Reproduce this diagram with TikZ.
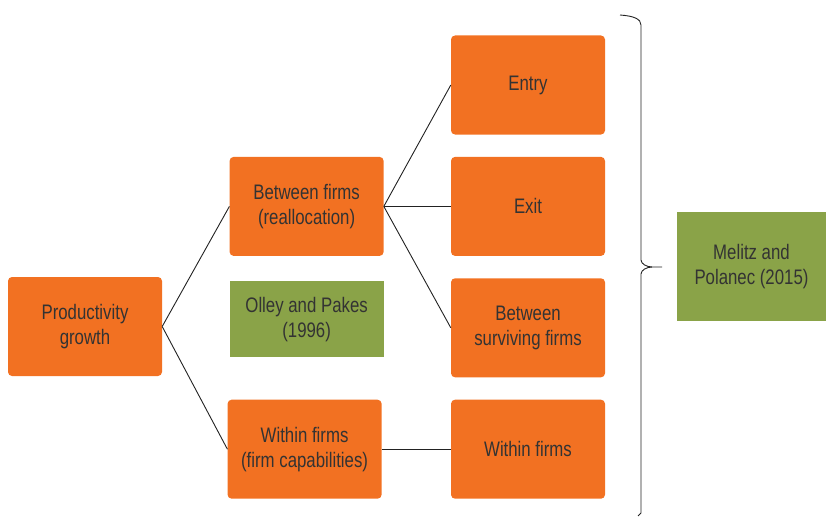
\documentclass[tikz,border=0pt]{standalone}
\usepackage{fontspec}
\setmainfont{Liberation Sans}[FakeStretch=0.8]
\usepackage{xcolor}
\usetikzlibrary{positioning}
\definecolor{boxorange}{RGB}{242,113,34}
\definecolor{refgreen}{RGB}{138,163,72}
\definecolor{labelgray}{RGB}{51,51,51}
\definecolor{linegray}{RGB}{34,34,34}

\begin{document}
\begin{tikzpicture}[x=1pt, y=1pt, node distance=22pt and 67pt,
	decomp/.style={minimum width=154pt, minimum height=99pt, inner sep=0pt, fill=boxorange, rounded corners=4pt, align=center, text=labelgray, font=\fontsize{21}{25}\selectfont},
	study/.style={inner sep=0pt, fill=refgreen, align=center, text=labelgray, font=\fontsize{21}{25}\selectfont},
	link/.style={draw=linegray, line width=0.9pt}]
	\useasboundingbox (0,0) rectangle (826,-516);

	\node[decomp] (entry) at (528,-85) {Entry};
	\node[decomp, below=of entry] (exit) {Exit};
	\node[decomp, below=of exit] (survivors) {Between\\surviving firms};
	\node[decomp, below=of survivors] (within) {Within firms};

	\node[decomp, left=of exit] (between) {Between firms\\(reallocation)};
	\node[decomp, left=69pt of within] (capab) {Within firms\\(firm capabilities)};
	\node[decomp] (prod) at (85,-326.5) {Productivity\\growth};

	\node[study, minimum width=154pt, minimum height=76pt, below=25pt of between] (olley) {Olley and Pakes\\(1996)};
	\node[study, minimum width=149pt, minimum height=109pt] (melitz) at (751.5,-266.5) {Melitz and\\Polanec (2015)};

	\draw[link] (prod.east) -- (between.west);
	\draw[link] (prod.east) -- (capab.west);
	\draw[link] (between.east) -- (entry.west);
	\draw[link] (between.east) -- (exit.west);
	\draw[link] (between.east) -- (survivors.west);
	\draw[link] (capab.east) -- (within.west);

	% brace grouping the right column
	\draw[link] (620,-15) .. controls (634,-16) and (641,-19) .. (641,-25) -- (641,-260) .. controls (641,-264) and (647,-267) .. (652,-267) -- (662,-267);
	\draw[link] (652,-267) .. controls (647,-267) and (641,-270) .. (641,-274) -- (641,-513) -- (638,-516);
\end{tikzpicture}
\end{document}
